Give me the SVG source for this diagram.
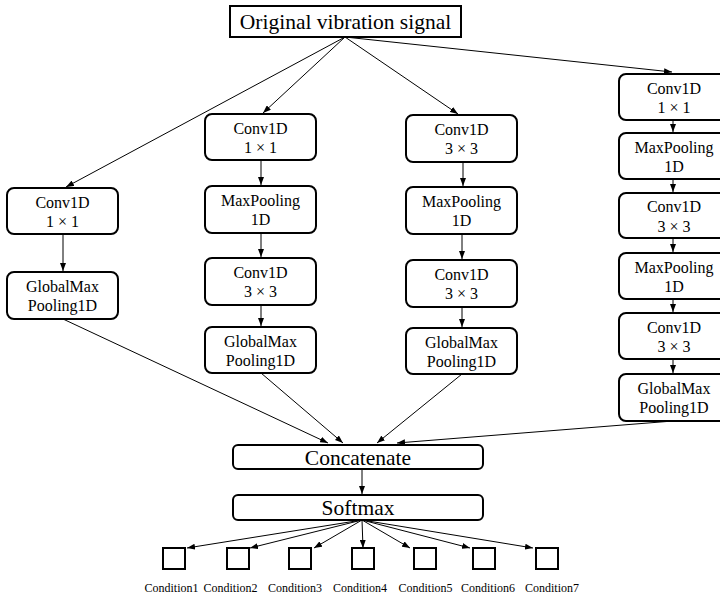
<svg xmlns="http://www.w3.org/2000/svg" width="720" height="598" viewBox="0 0 720 598">
<defs>
<style>
.box{fill:#fff;stroke:#000;stroke-width:2}
.sq{fill:#fff;stroke:#000;stroke-width:2}
.t{font-family:'Liberation Serif','Times New Roman','DejaVu Serif',serif;font-size:16px;fill:#000;text-anchor:middle}
.big{font-size:21.5px}
.small{font-size:12px}
.c{stroke:#000;stroke-width:1;fill:none;marker-end:url(#ah)}
</style>
<marker id="ah" markerWidth="8" markerHeight="6" refX="8" refY="3" orient="auto" markerUnits="userSpaceOnUse">
<path d="M0,0 L8,3 L0,6 z" fill="#000"/>
</marker>
</defs>
<rect width="720" height="598" fill="#fff"/>

<g id="connectors">
<line class="c" x1="345" y1="37" x2="66" y2="187"/>
<line class="c" x1="345" y1="37" x2="263" y2="113"/>
<line class="c" x1="345" y1="37" x2="458" y2="114"/>
<line class="c" x1="345" y1="37" x2="672" y2="72"/>

<line class="c" x1="63" y1="234" x2="63" y2="271"/>
<line class="c" x1="63" y1="319" x2="328" y2="443"/>

<line class="c" x1="261" y1="160" x2="261" y2="185"/>
<line class="c" x1="261" y1="233" x2="261" y2="257"/>
<line class="c" x1="261" y1="305" x2="261" y2="326"/>
<line class="c" x1="261" y1="373" x2="343" y2="443"/>

<line class="c" x1="463" y1="162" x2="463" y2="186"/>
<line class="c" x1="462" y1="234" x2="462" y2="259"/>
<line class="c" x1="462" y1="307" x2="462" y2="327"/>
<line class="c" x1="462" y1="374" x2="377" y2="443"/>

<line class="c" x1="673" y1="120" x2="673" y2="132"/>
<line class="c" x1="673" y1="179" x2="673" y2="192"/>
<line class="c" x1="673" y1="238" x2="673" y2="252"/>
<line class="c" x1="673" y1="299" x2="673" y2="312"/>
<line class="c" x1="673" y1="359" x2="673" y2="373"/>
<line class="c" x1="673" y1="421" x2="397" y2="443"/>

<line class="c" x1="362" y1="469" x2="362" y2="494"/>

<line class="c" x1="362" y1="520" x2="187" y2="548"/>
<line class="c" x1="362" y1="520" x2="250" y2="548"/>
<line class="c" x1="362" y1="520" x2="314" y2="548"/>
<line class="c" x1="362" y1="520" x2="363" y2="548"/>
<line class="c" x1="362" y1="520" x2="410" y2="548"/>
<line class="c" x1="362" y1="520" x2="470" y2="548"/>
<line class="c" x1="362" y1="520" x2="533" y2="548"/>
</g>

<g id="input">
<rect class="box" x="230" y="6" width="231" height="31"/>
<text class="t big" x="345.5" y="28.5">Original vibration signal</text>
</g>

<g id="b1-conv">
<rect class="box" x="7" y="188" width="111" height="46" rx="7"/>
<text class="t" x="62.5" y="207.5">Conv1D</text>
<text class="t" x="62.5" y="227">1 × 1</text>
</g>
<g id="b1-gmp">
<rect class="box" x="7" y="272" width="111" height="47" rx="7"/>
<text class="t" x="62.5" y="292">GlobalMax</text>
<text class="t" x="62.5" y="311">Pooling1D</text>
</g>

<g id="b2-conv1">
<rect class="box" x="205" y="114" width="111" height="46" rx="7"/>
<text class="t" x="260.5" y="133.5">Conv1D</text>
<text class="t" x="260.5" y="153">1 × 1</text>
</g>
<g id="b2-pool">
<rect class="box" x="205" y="186" width="111" height="47" rx="7"/>
<text class="t" x="260.5" y="205.5">MaxPooling</text>
<text class="t" x="260.5" y="225">1D</text>
</g>
<g id="b2-conv3">
<rect class="box" x="205" y="258" width="111" height="47" rx="7"/>
<text class="t" x="260.5" y="277.5">Conv1D</text>
<text class="t" x="260.5" y="297">3 × 3</text>
</g>
<g id="b2-gmp">
<rect class="box" x="205" y="327" width="111" height="46" rx="7"/>
<text class="t" x="260.5" y="346.5">GlobalMax</text>
<text class="t" x="260.5" y="366">Pooling1D</text>
</g>

<g id="b3-conv3a">
<rect class="box" x="406" y="115" width="111" height="47" rx="7"/>
<text class="t" x="461.5" y="134.5">Conv1D</text>
<text class="t" x="461.5" y="154">3 × 3</text>
</g>
<g id="b3-pool">
<rect class="box" x="406" y="187" width="111" height="47" rx="7"/>
<text class="t" x="461.5" y="206.5">MaxPooling</text>
<text class="t" x="461.5" y="226">1D</text>
</g>
<g id="b3-conv3b">
<rect class="box" x="406" y="260" width="111" height="47" rx="7"/>
<text class="t" x="461.5" y="279.5">Conv1D</text>
<text class="t" x="461.5" y="299">3 × 3</text>
</g>
<g id="b3-gmp">
<rect class="box" x="406" y="328" width="111" height="46" rx="7"/>
<text class="t" x="461.5" y="347.5">GlobalMax</text>
<text class="t" x="461.5" y="367">Pooling1D</text>
</g>

<g id="b4-conv1">
<rect class="box" x="619" y="74" width="112" height="46" rx="7"/>
<text class="t" x="674" y="93.5">Conv1D</text>
<text class="t" x="674" y="113">1 × 1</text>
</g>
<g id="b4-pool1">
<rect class="box" x="619" y="133" width="112" height="46" rx="7"/>
<text class="t" x="674" y="152.5">MaxPooling</text>
<text class="t" x="674" y="172">1D</text>
</g>
<g id="b4-conv3a">
<rect class="box" x="619" y="193" width="112" height="45" rx="7"/>
<text class="t" x="674" y="212">Conv1D</text>
<text class="t" x="674" y="231.5">3 × 3</text>
</g>
<g id="b4-pool2">
<rect class="box" x="619" y="253" width="112" height="46" rx="7"/>
<text class="t" x="674" y="272.5">MaxPooling</text>
<text class="t" x="674" y="292">1D</text>
</g>
<g id="b4-conv3b">
<rect class="box" x="619" y="313" width="112" height="46" rx="7"/>
<text class="t" x="674" y="332.5">Conv1D</text>
<text class="t" x="674" y="352">3 × 3</text>
</g>
<g id="b4-gmp">
<rect class="box" x="619" y="374" width="112" height="47" rx="7"/>
<text class="t" x="674" y="393.5">GlobalMax</text>
<text class="t" x="674" y="413">Pooling1D</text>
</g>

<g id="concatenate">
<rect class="box" x="233" y="445" width="250" height="24" rx="5"/>
<text class="t big" x="358" y="464.5">Concatenate</text>
</g>
<g id="softmax">
<rect class="box" x="233" y="495" width="250" height="25" rx="5"/>
<text class="t big" x="358" y="515">Softmax</text>
</g>

<g id="out1"><rect class="sq" x="163" y="548" width="22" height="21"/><text class="t small" x="171.5" y="592">Condition1</text></g>
<g id="out2"><rect class="sq" x="227" y="548" width="22" height="21"/><text class="t small" x="230.5" y="592">Condition2</text></g>
<g id="out3"><rect class="sq" x="289" y="548" width="22" height="21"/><text class="t small" x="295" y="592">Condition3</text></g>
<g id="out4"><rect class="sq" x="352" y="548" width="22" height="21"/><text class="t small" x="360" y="592">Condition4</text></g>
<g id="out5"><rect class="sq" x="414" y="548" width="22" height="21"/><text class="t small" x="425.5" y="592">Condition5</text></g>
<g id="out6"><rect class="sq" x="473" y="548" width="22" height="21"/><text class="t small" x="488" y="592">Condition6</text></g>
<g id="out7"><rect class="sq" x="536" y="548" width="22" height="21"/><text class="t small" x="552" y="592">Condition7</text></g>
</svg>
